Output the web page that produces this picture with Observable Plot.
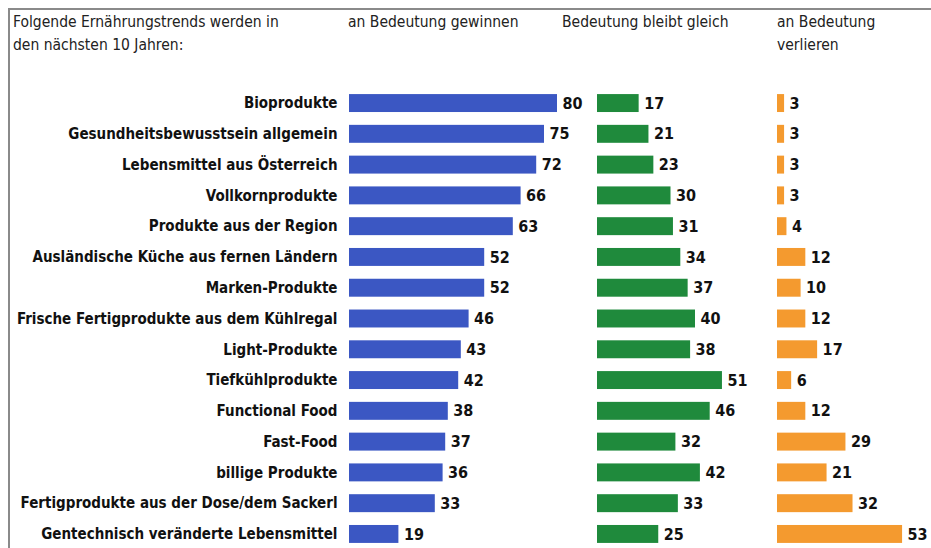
<!DOCTYPE html>
<html><head><meta charset="utf-8">
<script src="https://cdn.jsdelivr.net/npm/d3@7"></script>
<script src="https://cdn.jsdelivr.net/npm/@observablehq/plot@0.6"></script>
<style>
html,body{margin:0;padding:0;background:#fff;}
#wrap{position:relative;width:931px;height:548px;overflow:hidden;background:#fff;}
#frame{position:absolute;left:8px;top:8px;right:0;bottom:0;border-left:2px solid #8a8a8a;border-top:2px solid #8a8a8a;}
.hd{position:absolute;font-family:"DejaVu Sans Condensed","DejaVu Sans",sans-serif;font-stretch:condensed;font-size:15.5px;line-height:23px;color:#222;white-space:nowrap;}
.pl{position:absolute;top:0;}
</style></head>
<body><div id="wrap"><div id="frame"></div>
<div class="hd" style="left:13px;top:11px;">Folgende Ernährungstrends werden in<br>den nächsten 10 Jahren:</div>
<div class="hd" style="left:348px;top:11px;">an Bedeutung gewinnen</div>
<div class="hd" style="left:562px;top:11px;">Bedeutung bleibt gleich</div>
<div class="hd" style="left:777px;top:11px;">an Bedeutung<br>verlieren</div>
</div>
<script>
const categories = ["Bioprodukte","Gesundheitsbewusstsein allgemein","Lebensmittel aus Österreich","Vollkornprodukte","Produkte aus der Region","Ausländische Küche aus fernen Ländern","Marken-Produkte","Frische Fertigprodukte aus dem Kühlregal","Light-Produkte","Tiefkühlprodukte","Functional Food","Fast-Food","billige Produkte","Fertigprodukte aus der Dose/dem Sackerl","Gentechnisch veränderte Lebensmittel"];
const gewinnen = [80,75,72,66,63,52,52,46,43,42,38,37,36,33,19];
const gleich = [17,21,23,30,31,34,37,40,38,51,46,32,42,33,25];
const verlieren = [3,3,3,3,4,12,10,12,17,6,12,29,21,32,53];

const wrap = document.getElementById("wrap");
const H = 548;
const yOpts = {domain: categories, paddingInner: 0.417, paddingOuter: 0.1, round: false};
const labelFont = "DejaVu Sans Condensed, DejaVu Sans, sans-serif";

function panel(values, color, left, marginLeft, pxPerUnit, domainMax, width, withAxis) {
  const data = categories.map((c, i) => ({c, v: values[i]}));
  const marks = [
    Plot.barX(data, {x: "v", y: "c", fill: color}),
    Plot.text(data, {x: "v", y: "c", text: d => String(d.v), dx: 5, textAnchor: "start", fontWeight: "bold", fontSize: 16, fill: "#111"})
  ];
  if (withAxis) marks.push(Plot.axisY({tickSize: 0, tickPadding: 12, label: null, fontSize: 15, fontWeight: "bold", fill: "#111"}));
  const rangeW = pxPerUnit * domainMax;
  const p = Plot.plot({
    width, height: H,
    marginLeft, marginRight: width - marginLeft - rangeW, marginTop: 91, marginBottom: 2,
    x: {domain: [0, domainMax], axis: null},
    y: {...yOpts, axis: null},
    style: {fontFamily: labelFont, background: "transparent", overflow: "visible"},
    marks
  });
  p.classList.add("pl");
  p.style.left = left + "px";
  wrap.appendChild(p);
}
panel(gewinnen, "#3b57c3", 0, 349, 2.6, 80, 590, true);
panel(gleich, "#1f8a3c", 560, 37, 2.45, 51, 202, false);
panel(verlieren, "#f49a2f", 762, 15, 2.36, 53, 169, false);
</script></body></html>
